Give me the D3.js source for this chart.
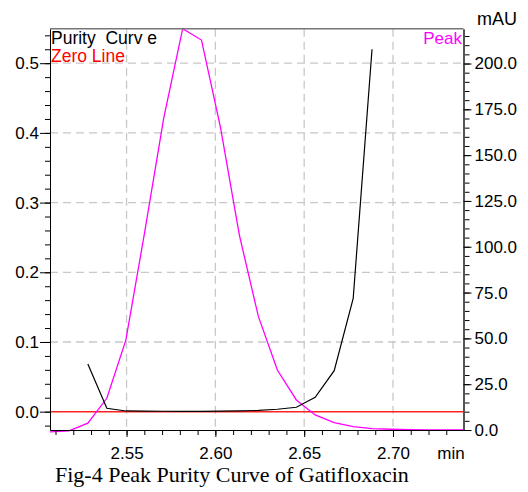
<!DOCTYPE html>
<html>
<head>
<meta charset="utf-8">
<script src="https://cdn.jsdelivr.net/npm/d3@7"></script>
<style>
  body { margin: 0; background: #fff; }
  svg { display: block; }
  text { font-family: "Liberation Sans", Arial, sans-serif; }
</style>
</head>
<body>
<div class="chart"></div>
<script>
// retention times (min) of the sampled points
const times = [2.5069, 2.5176, 2.5282, 2.5389, 2.5496, 2.5602, 2.5709, 2.5816,
  2.5922, 2.6029, 2.6136, 2.6242, 2.6349, 2.6456, 2.6562, 2.6669, 2.6776,
  2.6882, 2.6989, 2.7096, 2.7202, 2.7309, 2.7416]

// peak signal, mAU (right axis)
const peak = [-1, -0.5, 3.7, 17.3, 49, 108, 170, 219, 212.8, 165, 106, 62,
  32.7, 16.4, 8.2, 4.0, 1.8, 0.8, 0.4, 0.2, 0, 0, 0]

// purity curve (left axis), only from point 2 to point 17
const purity = [null, null, 0.0684, 0.0049, 0.001, 0.0008, 0.0006, 0.0005,
  0.0005, 0.0007, 0.001, 0.0018, 0.0035, 0.0063, 0.0207, 0.0588, 0.1627,
  0.52, null, null, null, null, null]

const xTicks = [2.55, 2.60, 2.65, 2.70]
const yLeftTicks = [0.0, 0.1, 0.2, 0.3, 0.4, 0.5]
const yRightTicks = [0, 25, 50, 75, 100, 125, 150, 175, 200]

// 1. dimensions
const width = 528
const height = 492
const plot = { left: 50, right: 463.5, top: 28.7, bottom: 430 }

// 2. canvas
const svg = d3.select(".chart")
  .append("svg")
  .attr("width", width)
  .attr("height", height)

// 3. scales
const xScale = d3.scaleLinear()
  .domain([2.5069, 2.7397])
  .range([plot.left, plot.right])

const yLeft = d3.scaleLinear()
  .domain([-0.0263, 0.5495])
  .range([plot.bottom, plot.top])

const yRight = d3.scaleLinear()
  .domain([0, 219])
  .range([plot.bottom, plot.top])

svg.append("clipPath").attr("id", "clip")
  .append("rect")
  .attr("x", plot.left).attr("y", plot.top)
  .attr("width", plot.right - plot.left)
  .attr("height", plot.bottom - plot.top + 3)

// 4. grid
const grid = svg.append("g")
  .attr("stroke", "#c8c8c8")
  .attr("stroke-width", 1.3)
  .attr("stroke-dasharray", "8,5")

grid.selectAll(".vgrid").data(xTicks).join("line")
  .attr("x1", d => xScale(d)).attr("x2", d => xScale(d))
  .attr("y1", plot.top).attr("y2", plot.bottom)

grid.selectAll(".hgrid").data(yLeftTicks.filter(d => d > 0)).join("line")
  .attr("x1", plot.left).attr("x2", plot.right)
  .attr("y1", d => yLeft(d)).attr("y2", d => yLeft(d))

// 5. data
const bounds = svg.append("g").attr("clip-path", "url(#clip)")

bounds.append("line")
  .attr("x1", plot.left).attr("x2", plot.right)
  .attr("y1", yLeft(0)).attr("y2", yLeft(0))
  .attr("stroke", "#f22")
  .attr("stroke-width", 1.5)

const peakLine = d3.line()
  .x((d, i) => xScale(times[i]))
  .y(d => yRight(d))

bounds.append("path")
  .attr("d", peakLine(peak))
  .attr("fill", "none")
  .attr("stroke", "#ff00ff")
  .attr("stroke-width", 1.3)

const purityLine = d3.line()
  .defined(d => d !== null)
  .x((d, i) => xScale(times[i]))
  .y(d => yLeft(d))

bounds.append("path")
  .attr("d", purityLine(purity))
  .attr("fill", "none")
  .attr("stroke", "#000")
  .attr("stroke-width", 1.2)

// 6. axes
const styleAxis = g => {
  g.selectAll("text")
    .attr("font-family", "Liberation Sans, Arial, sans-serif")
    .attr("font-size", 17)
    .attr("fill", "#000")
  g.selectAll("line").attr("stroke", "#000")
}

// minor ticks
svg.append("g")
  .attr("transform", `translate(0,${plot.bottom})`)
  .call(d3.axisBottom(xScale).tickValues(d3.range(2.51, 2.735, 0.01)).tickSize(5).tickFormat(""))
  .call(g => g.select(".domain").remove())
  .call(styleAxis)

svg.append("g")
  .attr("transform", `translate(${plot.left},0)`)
  .call(d3.axisLeft(yLeft).tickValues(d3.range(-0.02, 0.545, 0.02)).tickSize(5).tickFormat(""))
  .call(g => g.select(".domain").remove())
  .call(styleAxis)

svg.append("g")
  .attr("transform", `translate(${plot.right},0)`)
  .call(d3.axisRight(yRight).tickValues(d3.range(0, 216, 5)).tickSize(6).tickFormat(""))
  .call(g => g.select(".domain").remove())
  .call(styleAxis)

// major ticks
svg.append("g")
  .attr("transform", `translate(0,${plot.bottom})`)
  .call(d3.axisBottom(xScale).tickValues(xTicks).tickSize(7).tickSizeOuter(0).tickPadding(10).tickFormat(d3.format(".2f")))
  .call(styleAxis)

svg.append("g")
  .attr("transform", `translate(${plot.left},0)`)
  .call(d3.axisLeft(yLeft).tickValues(yLeftTicks).tickSize(10).tickSizeOuter(0).tickPadding(1).tickFormat(d3.format(".1f")))
  .call(styleAxis)

svg.append("g")
  .attr("transform", `translate(${plot.right},0)`)
  .call(d3.axisRight(yRight).tickValues(yRightTicks).tickSize(8).tickSizeOuter(0).tickPadding(3).tickFormat(d3.format(".1f")))
  .call(styleAxis)
  .call(g => g.select(".domain").attr("stroke", "#555").attr("stroke-width", 2))

// top border
svg.append("line")
  .attr("x1", plot.left).attr("x2", plot.right)
  .attr("y1", plot.top).attr("y2", plot.top)
  .attr("stroke", "#777")
  .attr("stroke-width", 1.6)

// 7. labels
svg.append("text")
  .attr("x", 51).attr("y", 44)
  .attr("font-size", 17.5)
  .style("white-space", "pre")
  .text("Purity  Curv e")

svg.append("text")
  .attr("x", 51).attr("y", 62)
  .attr("font-size", 17.5)
  .attr("fill", "#f00")
  .text("Zero Line")

svg.append("text")
  .attr("x", 462).attr("y", 43.5)
  .attr("text-anchor", "end")
  .attr("font-size", 17)
  .attr("fill", "#ff00ff")
  .text("Peak")

svg.append("text")
  .attr("x", 477).attr("y", 25)
  .attr("font-size", 18)
  .text("mAU")

svg.append("text")
  .attr("x", 451).attr("y", 459)
  .attr("text-anchor", "middle")
  .attr("font-size", 17)
  .text("min")

svg.append("text")
  .attr("x", 55).attr("y", 482)
  .style("font-family", "'Liberation Serif', 'Times New Roman', serif")
  .attr("font-size", 22)
  .text("Fig-4 Peak Purity Curve of Gatifloxacin")
</script>
</body>
</html>
